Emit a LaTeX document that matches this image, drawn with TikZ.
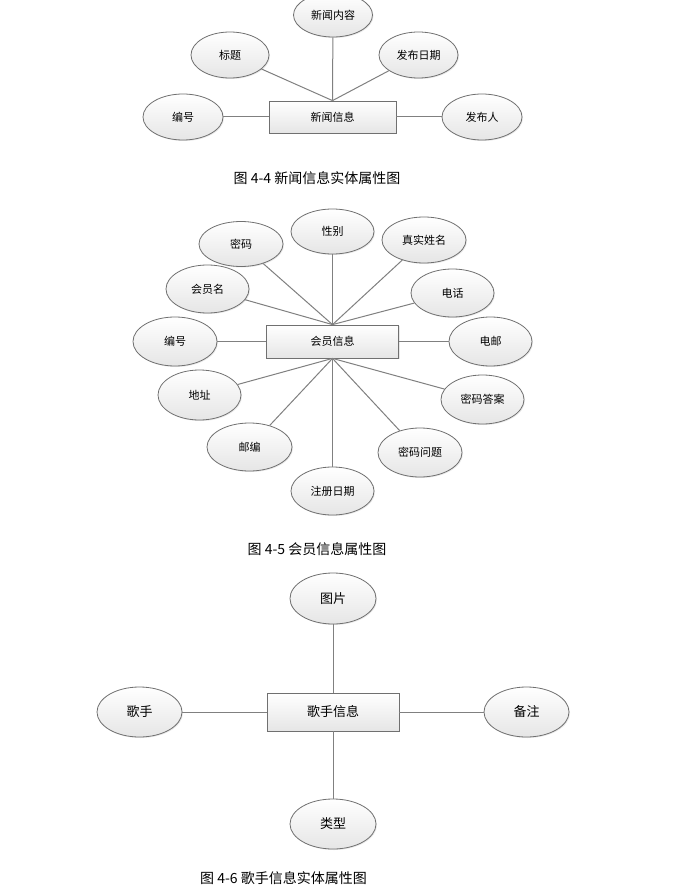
\documentclass[tikz,border=0pt]{standalone}
\usepackage{fontspec}
\setmainfont{Noto Sans CJK SC}
\usetikzlibrary{shapes.geometric,shadows}
\definecolor{edgegray}{HTML}{707070}
\definecolor{linegray}{HTML}{808080}
\tikzset{
  attr/.style={ellipse, draw=edgegray, line width=0.8pt, top color=white, bottom color=gray!20,
    inner sep=0pt, font=\fontsize{11}{11}\selectfont,
    drop shadow={shadow xshift=1pt, shadow yshift=-1pt, fill=gray!35}},
  ent/.style={rectangle, draw=edgegray, line width=0.8pt, top color=white, bottom color=gray!20,
    inner sep=0pt, font=\fontsize{11}{11}\selectfont,
    drop shadow={shadow xshift=1pt, shadow yshift=-1pt, fill=gray!35}},
  conn/.style={draw=linegray, line width=1pt},
  captext/.style={font=\fontsize{14}{14}\selectfont, inner sep=0pt},
}
\begin{document}
\begin{tikzpicture}[x=1pt,y=-1pt]
\useasboundingbox[fill=white] (0,0) rectangle (681,893);

% ---------- Figure 4-4 ----------
\node[ent, minimum width=127pt, minimum height=32pt] (n) at (332.5,117) {新闻信息};
\node[attr, minimum width=79pt, minimum height=44pt] (n1) at (333,15) {新闻内容};
\node[attr, minimum width=78pt, minimum height=46pt] (n2) at (230,55) {标题};
\node[attr, minimum width=79pt, minimum height=46pt] (n3) at (418.5,55) {发布日期};
\node[attr, minimum width=80pt, minimum height=46pt] (n4) at (183,117) {编号};
\node[attr, minimum width=80pt, minimum height=46pt] (n5) at (482,117) {发布人};
\coordinate (nt) at (n.north);
\draw[conn] (n1) -- (nt);
\draw[conn] (n2) -- (nt);
\draw[conn] (n3) -- (nt);
\draw[conn] (n4) -- (n.west);
\draw[conn] (n5) -- (n.east);
\node[captext] (c1) at (317,178) {图 4-4 新闻信息实体属性图};

% ---------- Figure 4-5 ----------
\node[ent, minimum width=132pt, minimum height=33pt] (m) at (332.5,341.5) {会员信息};
\coordinate (mt) at (m.north);
\coordinate (mb) at (m.south);
\node[attr, minimum width=83pt, minimum height=45pt] (m1) at (332.5,231.5) {性别};
\node[attr, minimum width=84pt, minimum height=45pt] (m2) at (241,244) {密码};
\node[attr, minimum width=84pt, minimum height=46pt] (m3) at (424,240) {真实姓名};
\node[attr, minimum width=83pt, minimum height=48pt] (m4) at (207.5,289) {会员名};
\node[attr, minimum width=83pt, minimum height=48pt] (m5) at (452.5,293) {电话};
\node[attr, minimum width=84pt, minimum height=49pt] (m6) at (175,341.5) {编号};
\node[attr, minimum width=83pt, minimum height=49pt] (m7) at (490.5,341.5) {电邮};
\node[attr, minimum width=83pt, minimum height=50pt] (m8) at (199.5,395) {地址};
\node[attr, minimum width=83pt, minimum height=49pt] (m9) at (482.5,399.5) {密码答案};
\node[attr, minimum width=85pt, minimum height=48pt] (m10) at (249.5,447) {邮编};
\node[attr, minimum width=84pt, minimum height=49pt] (m11) at (420,452.5) {密码问题};
\node[attr, minimum width=83pt, minimum height=48pt] (m12) at (332.5,491) {注册日期};
\draw[conn] (m1) -- (mt);
\draw[conn] (m2) -- (mt);
\draw[conn] (m3) -- (mt);
\draw[conn] (m4) -- (mt);
\draw[conn] (m5) -- (mt);
\draw[conn] (m6) -- (m.west);
\draw[conn] (m7) -- (m.east);
\draw[conn] (m8) -- (mb);
\draw[conn] (m9) -- (mb);
\draw[conn] (m10) -- (mb);
\draw[conn] (m11) -- (mb);
\draw[conn] (m12) -- (mb);
\node[captext] (c2) at (317,549) {图 4-5 会员信息属性图};

% ---------- Figure 4-6 ----------
\node[ent, minimum width=132pt, minimum height=38pt, font=\fontsize{13}{13}\selectfont] (s) at (333,712) {歌手信息};
\node[attr, minimum width=86pt, minimum height=51pt, font=\fontsize{13}{13}\selectfont] (s1) at (333,598.5) {图片};
\node[attr, minimum width=85pt, minimum height=50pt, font=\fontsize{13}{13}\selectfont] (s2) at (139.5,712) {歌手};
\node[attr, minimum width=85pt, minimum height=50pt, font=\fontsize{13}{13}\selectfont] (s3) at (526.5,712) {备注};
\node[attr, minimum width=86pt, minimum height=50pt, font=\fontsize{13}{13}\selectfont] (s4) at (333,824) {类型};
\draw[conn] (s1) -- (s.north);
\draw[conn] (s2) -- (s.west);
\draw[conn] (s3) -- (s.east);
\draw[conn] (s4) -- (s.south);
\node[captext] (c3) at (283.5,878) {图 4-6 歌手信息实体属性图};
\end{tikzpicture}
\end{document}
